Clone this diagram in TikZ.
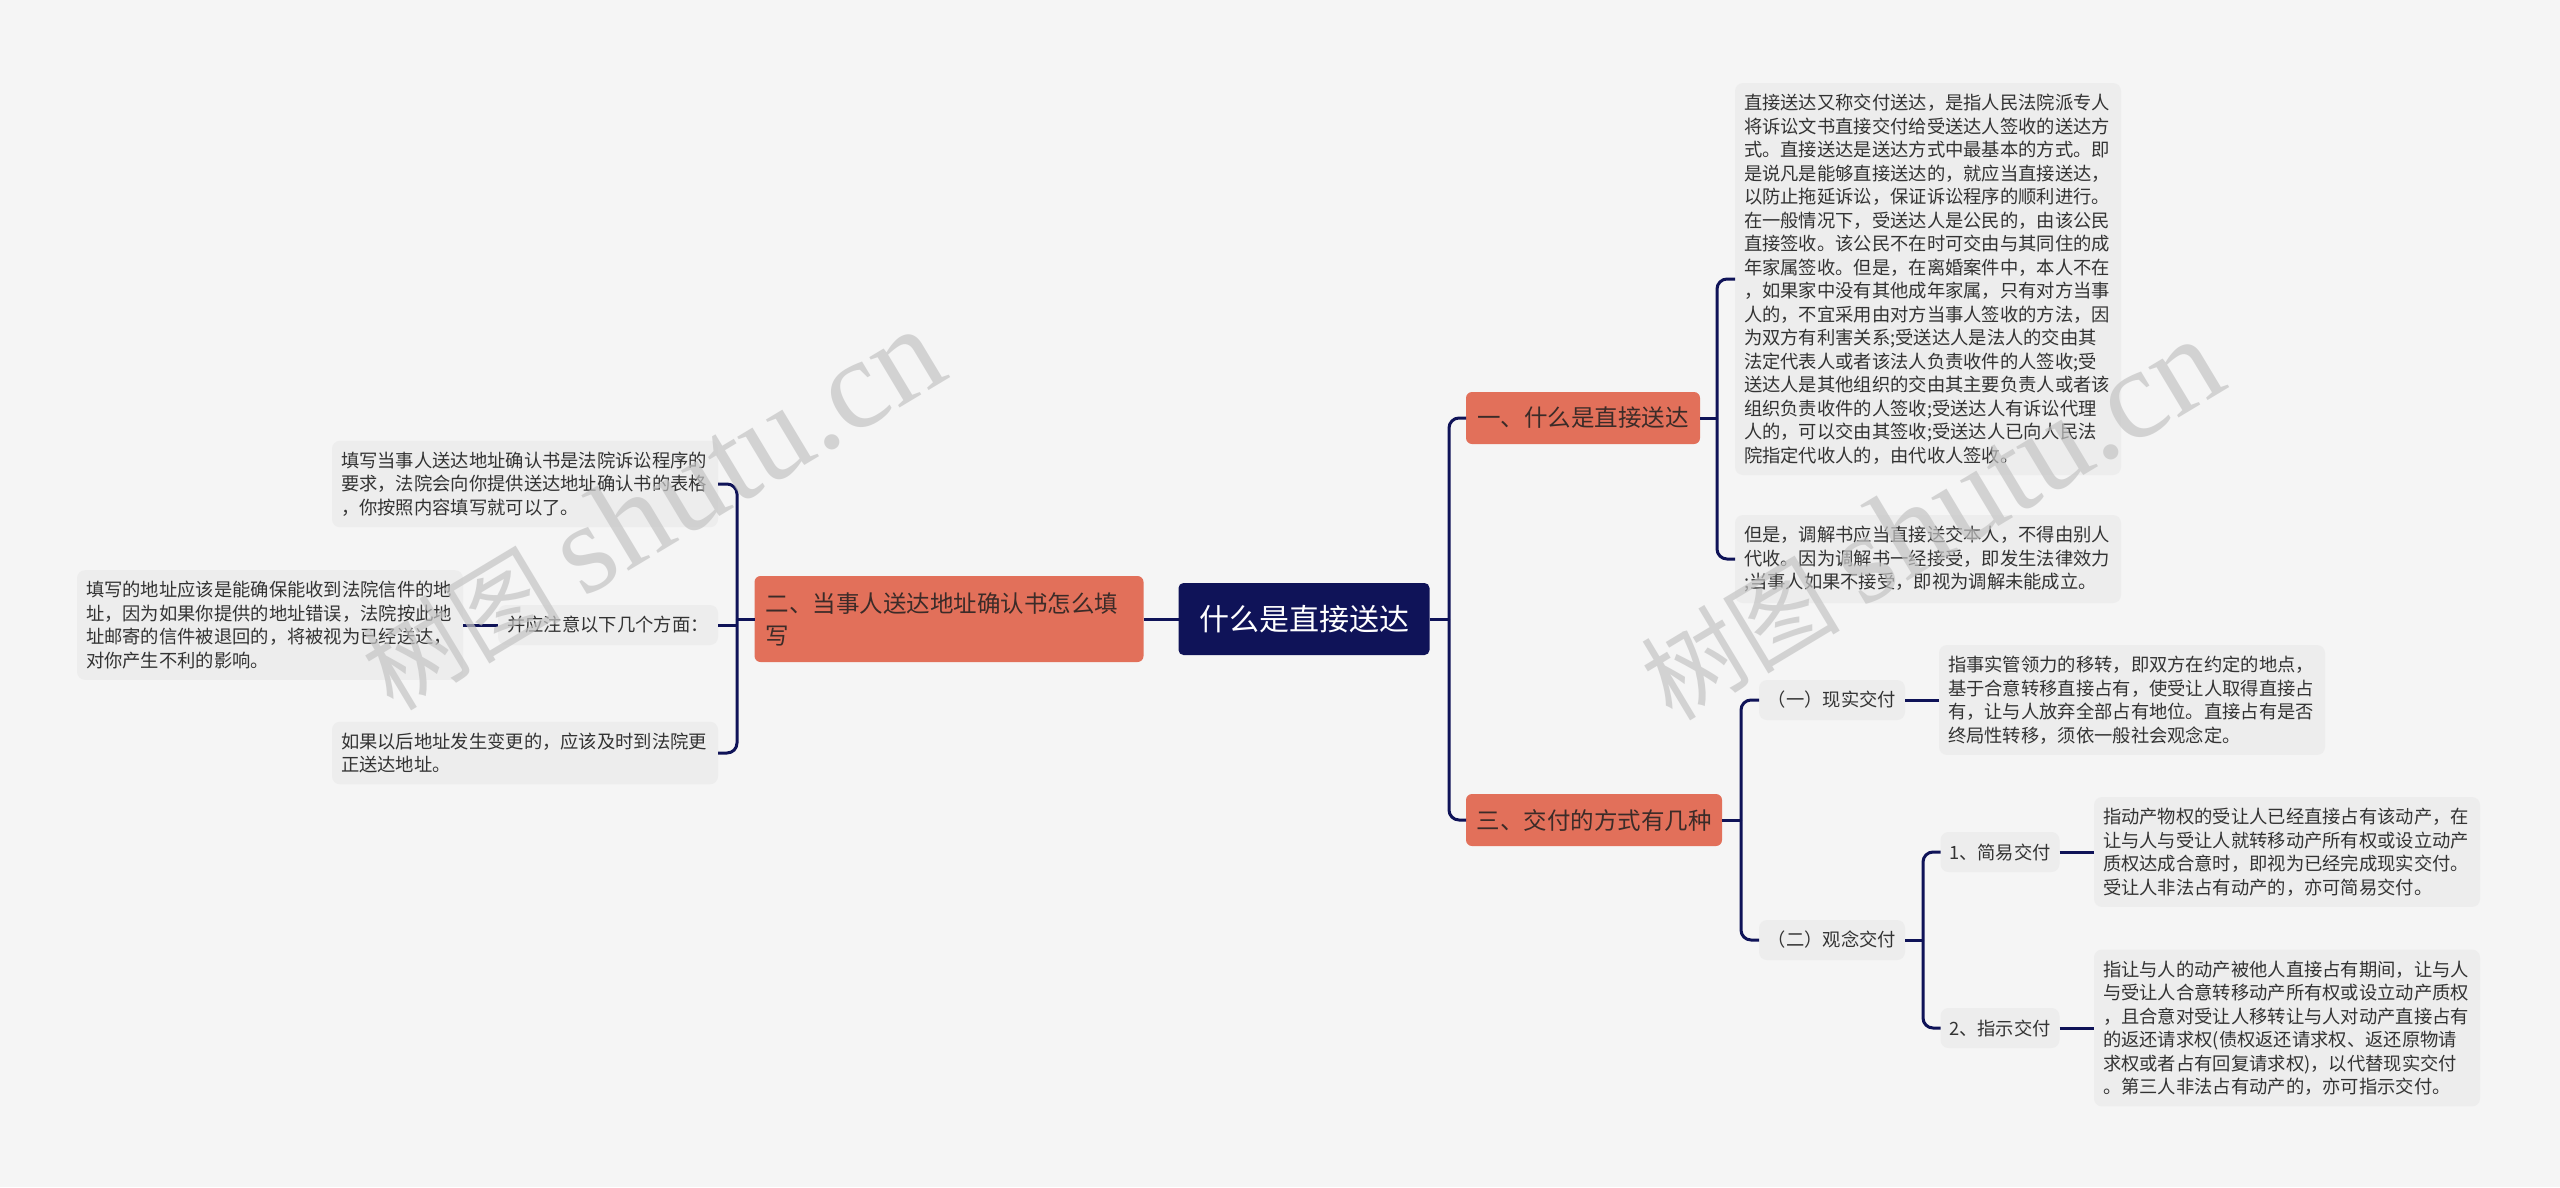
\documentclass[tikz,border=0pt]{standalone}
\usepackage{fontspec}
\setmainfont{Noto Sans CJK SC}
\newfontfamily\wmlatin{Liberation Serif}
\definecolor{bgcol}{HTML}{F5F5F5}
\definecolor{navy}{HTML}{0F1358}
\definecolor{branchcol}{HTML}{E2705A}
\definecolor{branchtext}{HTML}{3B2B28}
\definecolor{leafcol}{HTML}{EDEDED}
\definecolor{leaftext}{HTML}{333333}
\definecolor{markcol}{HTML}{C4C4C4}

\begin{document}
\begin{tikzpicture}[x=1pt, y=-1pt,
        every node/.style={inner sep=0pt, outer sep=0pt},
        rootbox/.style={fill=navy, text=white, rounded corners=5pt, minimum width=251pt, minimum height=72pt, font=\fontsize{30}{36}\selectfont},
        branchbox/.style={fill=branchcol, text=branchtext, rounded corners=6pt, minimum height=52pt, font=\fontsize{23.5}{32}\selectfont},
        leafbox/.style={fill=leafcol, text=leaftext, rounded corners=8pt, align=left, text width=368pt, inner xsep=9pt, inner ysep=11pt, font=\fontsize{18.3}{23.5}\selectfont},
        tagbox/.style={fill=leafcol, text=leaftext, rounded corners=8pt, minimum height=40pt, font=\fontsize{18.3}{23.5}\selectfont},
        link/.style={draw=navy, line width=3pt, rounded corners=10pt},
        wmark/.style={text=markcol, opacity=0.7, rotate=31}]
    \useasboundingbox (0,0) rectangle (2560,1187);
    \fill[bgcol] (0,0) rectangle (2560,1187);

    \node[rootbox] (root) at (1304,619) {什么是直接送达};
    \node[branchbox, minimum width=234pt] (one) at (1583,418) {一、什么是直接送达};
    \node[branchbox, minimum width=256pt] (three) at (1594,820) {三、交付的方式有几种};
    \node[branchbox, align=left, text width=367pt, inner xsep=11pt, minimum height=86pt] (two) at (949,619)
        {二、当事人送达地址确认书怎么填\\写};

    \node[leafbox] (d1) at (1928,279) {直接送达又称交付送达，是指人民法院派专人\\
        将诉讼文书直接交付给受送达人签收的送达方\\
        式。直接送达是送达方式中最基本的方式。即\\
        是说凡是能够直接送达的，就应当直接送达，\\
        以防止拖延诉讼，保证诉讼程序的顺利进行。\\
        在一般情况下，受送达人是公民的，由该公民\\
        直接签收。该公民不在时可交由与其同住的成\\
        年家属签收。但是，在离婚案件中，本人不在\\
        ，如果家中没有其他成年家属，只有对方当事\\
        人的，不宜采用由对方当事人签收的方法，因\\
        为双方有利害关系;受送达人是法人的交由其\\
        法定代表人或者该法人负责收件的人签收;受\\
        送达人是其他组织的交由其主要负责人或者该\\
        组织负责收件的人签收;受送达人有诉讼代理\\
        人的，可以交由其签收;受送达人已向人民法\\
        院指定代收人的，由代收人签收。};
    \node[leafbox] (d2) at (1928,559) {但是，调解书应当直接送交本人，不得由别人\\
        代收。因为调解书一经接受，即发生法律效力\\
        ;当事人如果不接受，即视为调解未能成立。};

    \node[tagbox, minimum width=146pt] (x1) at (1832,700) {（一）现实交付};
    \node[tagbox, minimum width=146pt] (x2) at (1832,940) {（二）观念交付};
    \node[leafbox] (e1) at (2132,700) {指事实管领力的移转，即双方在约定的地点，\\
        基于合意转移直接占有，使受让人取得直接占\\
        有，让与人放弃全部占有地位。直接占有是否\\
        终局性转移，须依一般社会观念定。};
    \node[tagbox, minimum width=119pt] (y1) at (2000,852) {1、简易交付};
    \node[tagbox, minimum width=119pt] (y2) at (2000,1028) {2、指示交付};
    \node[leafbox] (f1) at (2287,852) {指动产物权的受让人已经直接占有该动产，在\\
        让与人与受让人就转移动产所有权或设立动产\\
        质权达成合意时，即视为已经完成现实交付。\\
        受让人非法占有动产的，亦可简易交付。};
    \node[leafbox] (f2) at (2287,1028) {指让与人的动产被他人直接占有期间，让与人\\
        与受让人合意转移动产所有权或设立动产质权\\
        ，且合意对受让人移转让与人对动产直接占有\\
        的返还请求权(债权返还请求权、返还原物请\\
        求权或者占有回复请求权)，以代替现实交付\\
        。第三人非法占有动产的，亦可指示交付。};

    \node[leafbox] (a1) at (525,484) {填写当事人送达地址确认书是法院诉讼程序的\\
        要求，法院会向你提供送达地址确认书的表格\\
        ，你按照内容填写就可以了。};
    \node[tagbox, minimum width=220pt] (a2) at (608,625) {并应注意以下几个方面：};
    \node[leafbox] (a3) at (270,625) {填写的地址应该是能确保能收到法院信件的地\\
        址，因为如果你提供的地址错误，法院按此地\\
        址邮寄的信件被退回的，将被视为已经送达，\\
        对你产生不利的影响。};
    \node[leafbox] (a4) at (525,753) {如果以后地址发生变更的，应该及时到法院更\\
        正送达地址。};

    \coordinate (rj) at (1449,619);
    \coordinate (lj) at (737,619);
    \coordinate (oj) at (1717,418);
    \coordinate (tj) at (1741,820);
    \coordinate (gj) at (1923,940);

    \draw[link] (two.east) -- (root.west);
    \draw[link] (root.east) -- (rj);
    \draw[link] (rj) |- (one.west);
    \draw[link] (rj) |- (three.west);

    \draw[link] (two.west) -- (lj);
    \draw[link] (lj) |- (a1.east);
    \draw[link] (lj) |- (a4.east);
    \draw[link] (a2.east) -- (a2.east -| lj);
    \draw[link] (a3.east) -- (a2.west);

    \draw[link] (one.east) -- (oj);
    \draw[link] (oj) |- (d1.west);
    \draw[link] (oj) |- (d2.west);

    \draw[link] (three.east) -- (tj);
    \draw[link] (tj) |- (x1.west);
    \draw[link] (tj) |- (x2.west);
    \draw[link] (x1.east) -- (e1.west);
    \draw[link] (x2.east) -- (gj);
    \draw[link] (gj) |- (y1.west);
    \draw[link] (gj) |- (y2.west);
    \draw[link] (y1.east) -- (f1.west);
    \draw[link] (y2.east) -- (f2.west);

    \node[wmark] (wm1) at (652,510) {\fontsize{100}{105}\selectfont 树图 {\wmlatin\fontsize{128}{132}\selectfont shutu.cn}};
    \node[wmark] (wm2) at (1931,520) {\fontsize{100}{105}\selectfont 树图 {\wmlatin\fontsize{128}{132}\selectfont shutu.cn}};
\end{tikzpicture}
\end{document}
